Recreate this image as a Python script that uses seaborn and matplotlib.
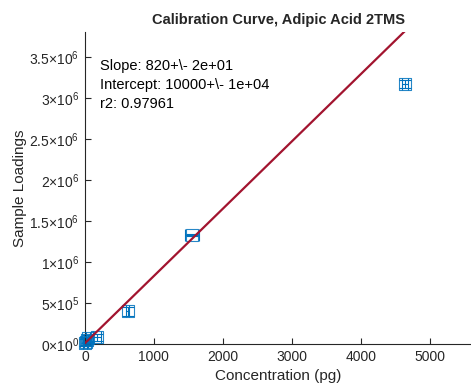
import matplotlib
matplotlib.use("Agg")
import matplotlib.pyplot as plt
import seaborn as sns
import numpy as np
import pandas as pd

# Data
conc = [5, 15, 25, 40, 170, 620, 1550, 4640]
loadings = [15000, 30000, 50000, 70000, 80000, 400000, 1330000, 3170000]
conc_err = [30, 30, 30, 30, 60, 20, 100, 40]
load_err = [40000, 40000, 40000, 40000, 40000, 55000, 10000, 45000]
slope = 820
intercept = 10000
fit_x = [0, 4750]
y_ticks = [0, 5e5, 1e6, 1.5e6, 2e6, 2.5e6, 3e6, 3.5e6]
y_tick_labels = ["0", "5", "1", "1.5", "2", "2.5", "3", "3.5"]
y_tick_exps = ["0", "5", "6", "6", "6", "6", "6", "6"]
x_ticks = [0, 1000, 2000, 3000, 4000, 5000]
annot = ["Slope: 820+\\- 2e+01", "Intercept: 10000+\\- 1e+04", "r2: 0.97961"]

sns.set_theme(style="white")
plt.rcParams['font.family'] = ['Liberation Sans', 'DejaVu Sans']
plt.rcParams['mathtext.fontset'] = 'custom'
plt.rcParams['mathtext.rm'] = 'Liberation Sans'
plt.rcParams['mathtext.it'] = 'Liberation Sans'

blue = "#0072BD"
red = "#A2142F"

fig = plt.figure(figsize=(4.71, 3.87), dpi=100)
ax = fig.add_axes([85/471, 1-344/387, 1-85/471, (344-32)/387])

df = pd.DataFrame({"conc": conc, "load": loadings})
ax.errorbar(conc, loadings, xerr=conc_err, yerr=load_err, fmt='none',
            ecolor=blue, elinewidth=0.8, capsize=4, capthick=0.8, clip_on=False, zorder=2)
sns.scatterplot(data=df, x="conc", y="load", ax=ax, marker='s', s=75,
                facecolor='none', edgecolor=blue, linewidth=0.8, alpha=0.85,
                clip_on=False, zorder=3)

fx = np.array(fit_x, dtype=float)
fit_df = pd.DataFrame({"x": fx, "y": slope * fx + intercept})
sns.lineplot(data=fit_df, x="x", y="y", ax=ax, color=red, linewidth=1.6, zorder=4)

ax.set_xlim(0, 5600)
ax.set_ylim(0, (344-32)/82*1e6)
ax.set_xticks(x_ticks)
ax.set_xticklabels([str(t) for t in x_ticks])
ax.set_yticks(y_ticks)
ax.set_yticklabels([r"$\mathregular{%s{\times}10^{%s}}$" % (m, e) for m, e in zip(y_tick_labels, y_tick_exps)])
ax.tick_params(direction='in', length=4, width=0.8, colors='#262626', labelsize=10, pad=4,
               left=True, bottom=True)
for s in ['top', 'right']:
    ax.spines[s].set_visible(False)
for s in ['left', 'bottom']:
    ax.spines[s].set_color('#262626')
    ax.spines[s].set_linewidth(0.8)

ax.set_xlabel("Concentration (pg)", fontsize=11, color='#262626', labelpad=4)
ax.set_ylabel("Sample Loadings", fontsize=11, color='#262626', labelpad=2)
ax.set_title("Calibration Curve, Adipic Acid 2TMS", fontsize=10.5, fontweight='bold', pad=6)

for i, t in enumerate(annot):
    ax.text(0.039, 0.891 - i*0.061, t, transform=ax.transAxes, fontsize=10.5,
            va='center', ha='left', color='black')

fig.savefig("out.png", dpi=100)
